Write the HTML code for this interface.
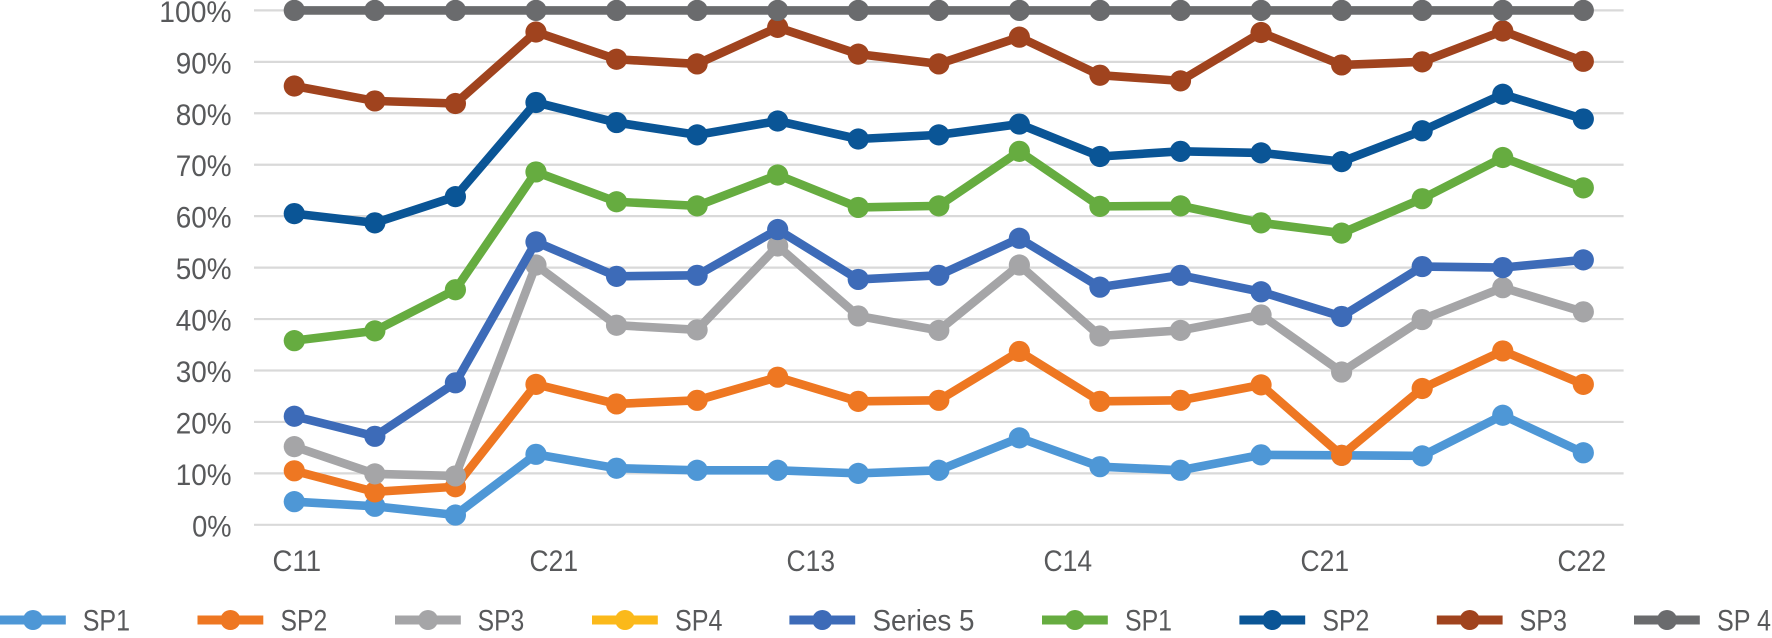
<!DOCTYPE html>
<html lang="en">
<head>
<meta charset="utf-8">
<title>Stacked line chart</title>
<style>
html,body{margin:0;padding:0;background:#fff;width:1772px;height:638px;overflow:hidden}
svg{display:block}
text{font-family:"Liberation Sans",sans-serif;font-size:30px;fill:#58595b}
</style>
</head>
<body>
<svg id="chart" xmlns="http://www.w3.org/2000/svg" width="1772" height="638" viewBox="0 0 1772 638">
  <g id="grid"></g>
  <g id="y-axis"></g>
  <g id="x-axis"></g>
  <g id="plot"></g>
  <g id="legend">
    <g>
      <rect x="0" y="615.5" width="65.8" height="9" fill="#4e97d6"/>
      <circle cx="33" cy="620" r="10" fill="#4e97d6"/>
      <text x="82.7" y="630.5" textLength="47.3" lengthAdjust="spacingAndGlyphs">SP1</text>
    </g>
    <g>
      <rect x="197.5" y="615.5" width="65.8" height="9" fill="#ee7722"/>
      <circle cx="230.4" cy="620" r="10" fill="#ee7722"/>
      <text x="280.5" y="630.5" textLength="46.7" lengthAdjust="spacingAndGlyphs">SP2</text>
    </g>
    <g>
      <rect x="395" y="615.5" width="65.8" height="9" fill="#a5a5a7"/>
      <circle cx="428" cy="620" r="10" fill="#a5a5a7"/>
      <text x="477.6" y="630.5" textLength="46.7" lengthAdjust="spacingAndGlyphs">SP3</text>
    </g>
    <g>
      <rect x="592" y="615.5" width="65.8" height="9" fill="#fbb91a"/>
      <circle cx="625" cy="620" r="10" fill="#fbb91a"/>
      <text x="675" y="630.5" textLength="47.5" lengthAdjust="spacingAndGlyphs">SP4</text>
    </g>
    <g>
      <rect x="789.4" y="615.5" width="65.8" height="9" fill="#3d6bb8"/>
      <circle cx="822.3" cy="620" r="10" fill="#3d6bb8"/>
      <text x="872.5" y="630.5" textLength="102" lengthAdjust="spacingAndGlyphs">Series 5</text>
    </g>
    <g>
      <rect x="1042" y="615.5" width="65.8" height="9" fill="#66ac40"/>
      <circle cx="1075" cy="620" r="10" fill="#66ac40"/>
      <text x="1125" y="630.5" textLength="47" lengthAdjust="spacingAndGlyphs">SP1</text>
    </g>
    <g>
      <rect x="1239.4" y="615.5" width="65.8" height="9" fill="#0a5596"/>
      <circle cx="1272.3" cy="620" r="10" fill="#0a5596"/>
      <text x="1322.4" y="630.5" textLength="47" lengthAdjust="spacingAndGlyphs">SP2</text>
    </g>
    <g>
      <rect x="1436.8" y="615.5" width="65.8" height="9" fill="#a0431e"/>
      <circle cx="1469.7" cy="620" r="10" fill="#a0431e"/>
      <text x="1519.5" y="630.5" textLength="47.5" lengthAdjust="spacingAndGlyphs">SP3</text>
    </g>
    <g>
      <rect x="1634" y="615.5" width="65.8" height="9" fill="#6a6b6d"/>
      <circle cx="1667" cy="620" r="10" fill="#6a6b6d"/>
      <text x="1717" y="630.5" textLength="54" lengthAdjust="spacingAndGlyphs">SP 4</text>
    </g>
  </g>
</svg>
<script>
const categories = ["1","2","3","4","5","6","7","8","9","10","11","12","13","14","15","16","17"];
const yTickValues = [0,10,20,30,40,50,60,70,80,90,100];
const xTickLabels = ["C11","C21","C13","C14","C21","C22"];

const sp1Values = [4.5,3.6,1.9,13.7,11,10.6,10.6,10,10.6,16.9,11.3,10.6,13.6,13.5,13.4,21.3,14];
const sp2Values = [10.5,6.4,7.4,27.3,23.5,24.2,28.7,24,24.2,33.7,24,24.2,27.2,13.5,26.5,33.8,27.3];
const sp3Values = [15.2,9.9,9.5,50.5,38.8,37.9,54.2,40.6,37.8,50.5,36.7,37.8,40.8,29.7,39.9,46.1,41.4];
const sp4Values = [];
const series5Values = [21.1,17.2,27.6,55,48.3,48.5,57.4,47.7,48.5,55.7,46.2,48.5,45.3,40.5,50.2,50,51.5];
const sp1UpperValues = [35.8,37.7,45.7,68.6,62.8,62,68,61.7,62,72.6,61.9,62,58.7,56.7,63.4,71.4,65.5];
const sp2UpperValues = [60.5,58.7,63.8,82.1,78.2,75.8,78.5,75,75.8,77.9,71.6,72.6,72.3,70.6,76.6,83.7,78.9];
const sp3UpperValues = [85.3,82.4,81.9,95.8,90.5,89.6,96.7,91.5,89.6,94.8,87.4,86.3,95.7,89.4,90,96,90.1];
const sp4UpperValues = [100,100,100,100,100,100,100,100,100,100,100,100,100,100,100,100,100];

const seriesList = [
  {key:"sp1", color:"#4e97d6", values:sp1Values},
  {key:"sp2", color:"#ee7722", values:sp2Values},
  {key:"sp3", color:"#a5a5a7", values:sp3Values},
  {key:"sp4", color:"#fbb91a", values:sp4Values},
  {key:"series-5", color:"#3d6bb8", values:series5Values},
  {key:"sp1-upper", color:"#66ac40", values:sp1UpperValues},
  {key:"sp2-upper", color:"#0a5596", values:sp2UpperValues},
  {key:"sp3-upper", color:"#a0431e", values:sp3UpperValues},
  {key:"sp-4-upper", color:"#6a6b6d", values:sp4UpperValues}
];

const NS = "http://www.w3.org/2000/svg";
const plotLeft = 254, plotRight = 1623.6, y0 = 524.8, y100 = 10.4;
const labelStep = 3.19;

function xScale(i){ return plotLeft + (i + 0.5) * (plotRight - plotLeft) / categories.length; }
function yScale(v){ return y0 - (v / 100) * (y0 - y100); }
function yLabelWidth(v){ return 23 + 16.4 * String(v).length; }
function make(tag, parent){
  const el = document.createElementNS(NS, tag);
  parent.appendChild(el);
  return el;
}

const gridG = document.getElementById("grid");
const yG = document.getElementById("y-axis");
const xG = document.getElementById("x-axis");
const plotG = document.getElementById("plot");

yTickValues.forEach(function(v){
  const line = make("line", gridG);
  
  
  line.setAttribute("x1", plotLeft);
  line.setAttribute("x2", plotRight);
  line.setAttribute("y1", yScale(v));
  line.setAttribute("y2", yScale(v));
  line.setAttribute("stroke", "#d9d9d9");
  line.setAttribute("stroke-width", "2.2");

  const t = make("text", yG);
  
  
  t.setAttribute("x", 231.5);
  t.setAttribute("y", yScale(v) + 11.5);
  t.setAttribute("text-anchor", "end");
  t.setAttribute("textLength", yLabelWidth(v));
  t.setAttribute("lengthAdjust", "spacingAndGlyphs");
  t.textContent = v + "%";
});

xTickLabels.forEach(function(label, i){
  const t = make("text", xG);
  
  
  t.setAttribute("x", xScale(i * labelStep) + 2.5);
  t.setAttribute("y", 571);
  t.setAttribute("text-anchor", "middle");
  t.setAttribute("textLength", 48.5);
  t.setAttribute("lengthAdjust", "spacingAndGlyphs");
  t.textContent = label;
});

seriesList.forEach(function(s){
  const g = make("g", plotG);
  
  
  if (!s.values.length) return;
  const path = make("polyline", g);
  
  
  path.setAttribute("points", s.values.map(function(v, i){ return xScale(i) + "," + yScale(v); }).join(" "));
  path.setAttribute("fill", "none");
  path.setAttribute("stroke", s.color);
  path.setAttribute("stroke-width", "8.6");
  path.setAttribute("stroke-linejoin", "round");
  s.values.forEach(function(v, i){
    const c = make("circle", g);
    
    
    c.setAttribute("cx", xScale(i));
    c.setAttribute("cy", yScale(v));
    c.setAttribute("r", "10.6");
    c.setAttribute("fill", s.color);
  });
});
</script>
</body>
</html>
